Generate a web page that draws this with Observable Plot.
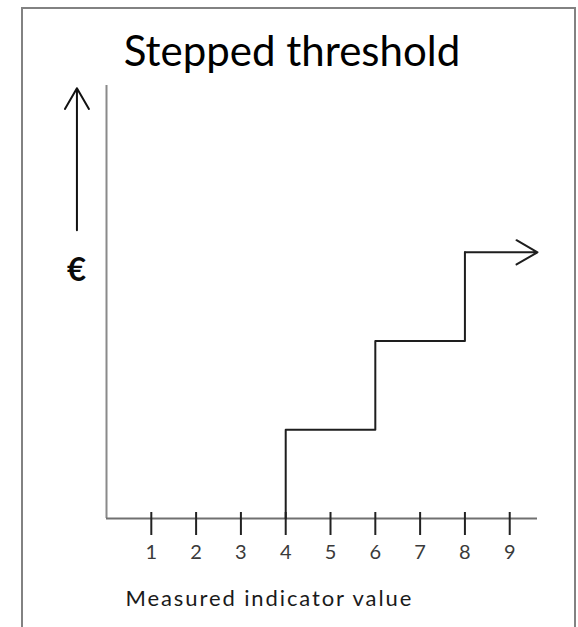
<!DOCTYPE html>
<html>
<head>
<meta charset="utf-8">
<script src="https://cdn.jsdelivr.net/npm/d3@7"></script>
<script src="https://cdn.jsdelivr.net/npm/@observablehq/plot@0.6"></script>
<style>
  html, body { margin: 0; padding: 0; background: #fff; }
  #wrap { position: relative; width: 578px; height: 627px; overflow: hidden; background: #fff; }
  #frame { position: absolute; left: 21px; top: 7px; width: 551px; height: 700px; border: 2px solid #828282; pointer-events: none; }
  #wrap svg { position: absolute; left: 0; top: 0; }
</style>
</head>
<body>
<div id="wrap"><div id="frame"></div></div>
<script>
// ---- data ----
const title = "Stepped threshold";
const xLabel = "Measured indicator value";
const yLabel = "€";
const xTicks = [1, 2, 3, 4, 5, 6, 7, 8, 9];
const stepStarts = [4, 6, 8];      // indicator value where each step begins
const stepLevels = [1, 2, 3];      // payment level (relative) of each step
const xAxisEnd = 9.62;             // x axis / last step arrow end
const yAxisTop = 4.88;             // top of y axis

// build the stepped path from the arrays
const stepPts = [{x: stepStarts[0], y: 0}];
stepStarts.forEach((s, i) => {
  stepPts.push({x: s, y: stepLevels[i]});
  if (i < stepStarts.length - 1) stepPts.push({x: stepStarts[i + 1], y: stepLevels[i]});
});
const lastPt = stepPts[stepPts.length - 1];

const font = "Lato, 'Open Sans', sans-serif";

const chart = Plot.plot({
  width: 578,
  height: 627,
  marginLeft: 106,
  marginRight: 41,
  marginTop: 85,
  marginBottom: 109,
  style: {background: "transparent", fontFamily: font},
  x: {domain: [0, xAxisEnd], axis: null},
  y: {domain: [0, yAxisTop], axis: null},
  marks: [
    // y axis
    Plot.ruleX([0], {y1: 0, y2: yAxisTop, stroke: "#8a8a8a", strokeWidth: 2}),
    // x axis
    Plot.ruleY([0], {x1: 0, x2: xAxisEnd, stroke: "#707070", strokeWidth: 2}),
    // tick marks
    Plot.ruleX(xTicks, {x: d => d, y1: 0, y2: 0, insetTop: -6, insetBottom: -17, stroke: "#222", strokeWidth: 2}),
    // tick labels
    Plot.text(xTicks, {x: d => d, y: 0, dy: 34, text: d => String(d), fontSize: 20, fill: "#3a3a3a"}),
    // stepped threshold line
    Plot.line(stepPts, {x: "x", y: "y", stroke: "#1e1e1e", strokeWidth: 2, curve: "linear"}),
    Plot.arrow([lastPt], {x1: "x", y1: "y", x2: xAxisEnd, y2: "y", stroke: "#1e1e1e", strokeWidth: 2, headLength: 20, headAngle: 60}),
    // € arrow on the left
    Plot.arrow([0], {x1: -0.66, x2: -0.66, y1: 3.25, y2: 4.85, stroke: "#111", strokeWidth: 2, headLength: 18, headAngle: 60}),
    Plot.text([yLabel], {x: -0.67, y: 2.8, text: d => d, fontSize: 33, fontWeight: "bold", fill: "#0a0a0a"}),
    // title
    Plot.text([title], {frameAnchor: "top", dx: -30, dy: -20, lineAnchor: "bottom", text: d => d, fontSize: 42, fill: "#000"}),
    // x label
    Plot.text([xLabel], {frameAnchor: "bottom-left", dx: 19, dy: 87, textAnchor: "start", text: d => d, fontSize: 22, fill: "#1a1a1a"})
  ]
});
d3.select(chart).selectAll("text")
  .filter(function () { return this.textContent === xLabel; })
  .attr("letter-spacing", "1.9px");
document.getElementById("wrap").insertBefore(chart, document.getElementById("frame"));
</script>
</body>
</html>
